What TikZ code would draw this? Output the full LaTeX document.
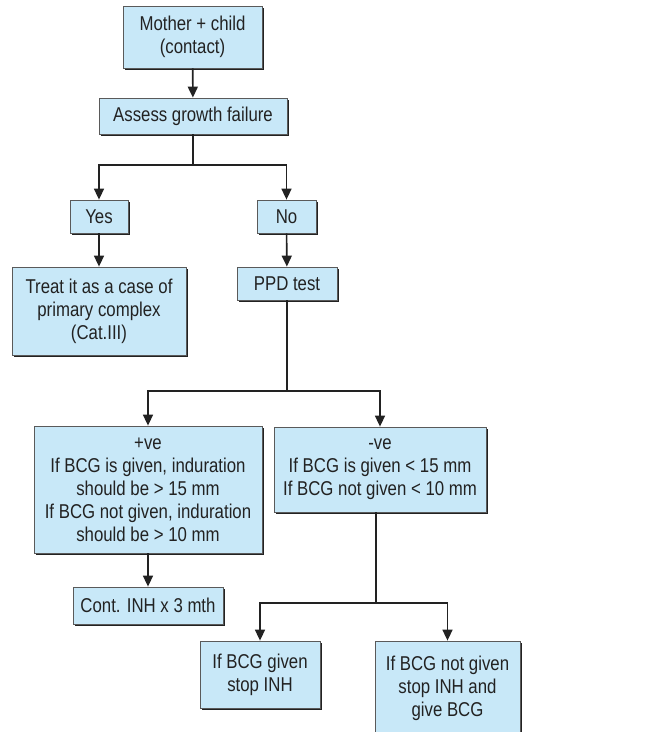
\documentclass[tikz,border=0pt]{standalone}
\usepackage{fontspec}
\setmainfont{Liberation Sans}[FakeStretch=0.84]
\usepackage{tikz}
\usetikzlibrary{arrows.meta,shadows}
\definecolor{cFill}{HTML}{C8E8F8}
\definecolor{cEdge}{HTML}{5A5A5A}
\definecolor{cLine}{HTML}{222222}
\tikzset{
  box/.style={draw=cEdge, line width=0.8pt, fill=cFill, text=cLine, align=center,
              inner sep=2pt, font=\fontsize{20}{23}\selectfont,
              drop shadow={shadow xshift=2pt, shadow yshift=-2pt, fill=cLine, opacity=1}},
  link/.style={line width=1.6pt, cLine},
  arr/.style={link, -{Triangle[length=11pt,width=10pt]}}
}

\begin{document}
\begin{tikzpicture}[x=1pt, y=-1pt]
\clip (0,0) rectangle (661,732);
\fill[white] (0,0) rectangle (661,732);
% top part
\node[box, minimum width=139pt, minimum height=62pt] (mother) at (192.5,37) {Mother + child\\(contact)};
\node[box, minimum width=188pt, minimum height=36pt] (assess) at (193,116) {Assess growth failure};
\node[box, minimum width=58pt, minimum height=33pt] (yes) at (99,216.5) {Yes};
\node[box, minimum width=59pt, minimum height=33pt] (no) at (286.5,216.5) {No};
\node[box, minimum width=174pt, minimum height=88pt] (treat) at (99,311) {Treat it as a case of\\primary complex\\(Cat.III)};
\node[box, minimum width=100pt, minimum height=33pt] (ppd) at (287,283.5) {PPD test};
% PPD results
\node[box, minimum width=228pt, minimum height=127pt] (pos) at (148,489.5) {+ve\\If BCG is given, induration\\should be > 15 mm\\If BCG not given, induration\\should be > 10 mm};
\node[box, minimum width=212pt, minimum height=85pt] (neg) at (380,469.5) {-ve\\If BCG is given < 15 mm\\If BCG not given < 10 mm};
\node[box, minimum width=150pt, minimum height=37pt] (cont) at (148,605.5) {Cont. INH x 3 mth};
\node[box, minimum width=120pt, minimum height=67pt] (given) at (260,674.5) {If BCG given\\stop INH};
\node[box, minimum width=145pt, minimum height=94pt] (notgiven) at (447.5,688) {If BCG not given\\stop INH and\\give BCG};
% split points
\coordinate (s1) at (193,165);
\coordinate (s2) at (287,391);
\coordinate (s3) at (376,603);
% connectors
\draw[arr] (mother) -- (assess);
\draw[link] (assess) -- (s1);
\draw[arr] (s1) -| (yes);
\draw[arr] (s1) -| (no);
\draw[arr] (yes) -- (treat);
\draw[arr] (no) -- (ppd);
\draw[link] (ppd) -- (s2);
\draw[arr] (s2) -| (pos);
\draw[arr] (s2) -| (neg);
\draw[arr] (pos) -- (cont);
\draw[link] (neg.south -| s3) -- (s3);
\draw[arr] (s3) -| (given);
\draw[arr] (s3) -| (notgiven);
\end{tikzpicture}
\end{document}
